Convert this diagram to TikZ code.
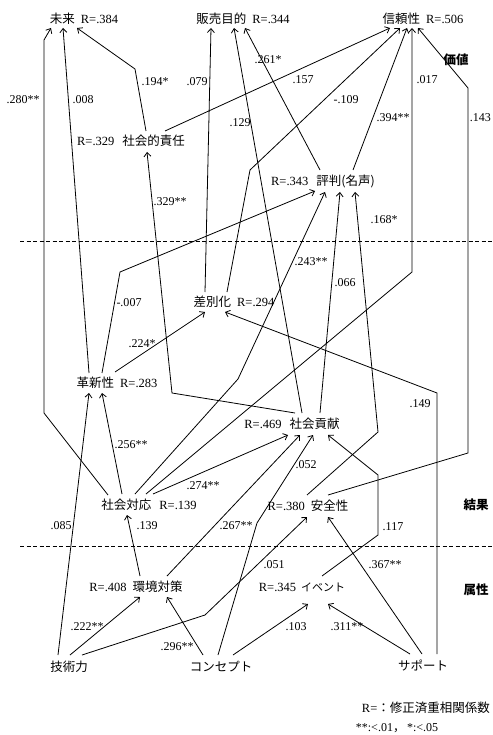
\documentclass[tikz,border=0pt]{standalone}
\usepackage{fontspec}
\setmainfont{Liberation Serif}
\newfontfamily\jp{Noto Sans CJK JP}
\usetikzlibrary{arrows.meta}
\begin{document}
\begin{tikzpicture}[x=1pt,y=-1pt,
  nd/.style={inner sep=0pt, font=\fontsize{12.5}{14}\selectfont},
  sec/.style={inner sep=0pt, font=\fontsize{12.5}{14}\selectfont\bfseries},
  lb/.style={inner sep=0pt, font=\fontsize{12}{13}\selectfont},
  ar/.style={line width=0.8pt, -{Straight Barb[length=4pt,width=7pt]}},
  sepline/.style={line width=0.8pt, dash pattern=on 4pt off 2.5pt}]
\useasboundingbox (0,0) rectangle (492,735);
\fill[white] (0,0) rectangle (492,735);

% separators
\draw[sepline] (20,241) -- (492,241);
\draw[sepline] (20,546) -- (492,546);

% nodes
\node[nd] (mirai) at (84,19) {{\jp 未来}\hspace{6pt}R=.384};
\node[nd] (hanbai) at (243,19) {{\jp 販売目的}\hspace{6pt}R=.344};
\node[nd] (shinrai) at (423,19) {{\jp 信頼性}\hspace{6pt}R=.506};
\node[nd] (sekinin) at (131,141) {R=.329\hspace{8pt}{\jp 社会的責任}};
\node[nd] (hyoban) at (323,181) {R=.343\hspace{8pt}{\jp 評判(名声)}};
\node[nd] (sabetsu) at (234,302) {{\jp 差別化}\hspace{6pt}R=.294};
\node[nd] (kakushin) at (117,383) {{\jp 革新性}\hspace{6pt}R=.283};
\node[nd] (kouken) at (292,424) {R=.469\hspace{8pt}{\jp 社会貢献}};
\node[nd] (taiou) at (149,505) {{\jp 社会対応}\hspace{8pt}R=.139};
\node[nd] (anzen) at (308,506) {R=.380\hspace{6pt}{\jp 安全性}};
\node[nd] (kankyo) at (136,587) {R=.408\hspace{6pt}{\jp 環境対策}};
\node[nd] (event) at (302,587) {R=.345\hspace{5pt}{\jp\fontsize{11}{13}\selectfont イベント}};
\node[nd] (gijutsu) at (69,667) {\jp 技術力};
\node[nd] (concept) at (221,667) {\jp コンセプト};
\node[nd] (support) at (423,665) {\jp サポート};

\node[sec] (kachi) at (456,60) {\jp\bfseries 価値};
\node[sec] (kekka) at (476,505) {\jp\bfseries 結果};
\node[sec] (zokusei) at (476,590) {\jp\bfseries 属性};

\node[nd, anchor=east] (leg1) at (490,708) {R={\jp ：修正済重相関係数}};
\node[lb] (leg2) at (397,728) {**:<.01{\jp ，}\,*:<.05};

% edges
\draw[ar] ([shift={(-41,-10)}]taiou.center) -- (44,413) -- (44,40) -- ([shift={(-33,9)}]mirai.center);
\draw[ar] ([shift={(-28,-10)}]kakushin.center) -- ([shift={(-21,9)}]mirai.center);
\draw[ar] ([shift={(15,-10)}]sekinin.center) -- (135,69) -- ([shift={(-7,9)}]mirai.center);

\draw[ar] ([shift={(-29,-10)}]sabetsu.center) -- ([shift={(-32,9)}]hanbai.center);
\draw[ar] ([shift={(10,-11)}]kouken.center) -- ([shift={(-9,9)}]hanbai.center);
\draw[ar] ([shift={(-3,-11)}]hyoban.center) -- ([shift={(2,9)}]hanbai.center);

\draw[ar] ([shift={(34,-10)}]sekinin.center) -- ([shift={(-33,9)}]shinrai.center);
\draw[ar] ([shift={(-7,-10)}]sabetsu.center) -- (250,170) -- ([shift={(-23,9)}]shinrai.center);
\draw[ar] ([shift={(30,-11)}]hyoban.center) -- ([shift={(-16,9)}]shinrai.center);
\draw[ar] ([shift={(-3,-11)}]taiou.center) -- (412,272) -- ([shift={(-11,9)}]shinrai.center);
\draw[ar] ([shift={(20,-11)}]anzen.center) -- (468,453) -- (468,88) -- ([shift={(-5,9)}]shinrai.center);

\draw[ar] ([shift={(3,-11)}]kouken.center) -- (172,393) -- ([shift={(16,11)}]sekinin.center);

\draw[ar] ([shift={(-15,-10)}]kakushin.center) -- (120,272) -- ([shift={(-8,10)}]hyoban.center);
\draw[ar] ([shift={(-14,-11)}]taiou.center) -- (238,379) -- ([shift={(2,11)}]hyoban.center);
\draw[ar] ([shift={(28,-11)}]kouken.center) -- ([shift={(17,11)}]hyoban.center);
\draw[ar] ([shift={(-1,-11)}]anzen.center) -- (378,432) -- ([shift={(32,11)}]hyoban.center);

\draw[ar] ([shift={(-2,-11)}]kakushin.center) -- ([shift={(-29,10)}]sabetsu.center);
\draw[ar] ([shift={(14,-11)}]support.center) -- (437,393) -- ([shift={(-9,10)}]sabetsu.center);

\draw[ar] ([shift={(-11,-12)}]gijutsu.center) -- ([shift={(-28,10)}]kakushin.center);
\draw[ar] ([shift={(-27,-11)}]taiou.center) -- ([shift={(-15,10)}]kakushin.center);

\draw[ar] ([shift={(4,-11)}]taiou.center) -- ([shift={(-4,11)}]kouken.center);
\draw[ar] ([shift={(31,-11)}]kankyo.center) -- ([shift={(8,11)}]kouken.center);
\draw[ar] ([shift={(-3,-12)}]concept.center) -- (257,523) -- ([shift={(21,11)}]kouken.center);
\draw[ar] ([shift={(20,-11)}]event.center) -- (378,535) -- (378,475) -- ([shift={(36,11)}]kouken.center);

\draw[ar] ([shift={(4,-11)}]kankyo.center) -- ([shift={(-22,10)}]taiou.center);

\draw[ar] ([shift={(13,-12)}]gijutsu.center) -- (205,615) -- ([shift={(-1,11)}]anzen.center);
\draw[ar] ([shift={(-1,-11)}]support.center) -- ([shift={(20,11)}]anzen.center);

\draw[ar] ([shift={(12,-12)}]concept.center) -- ([shift={(6,17)}]event.center);
\draw[ar] ([shift={(-13,-11)}]support.center) -- ([shift={(26,17)}]event.center);

\draw[ar] ([shift={(1,-12)}]gijutsu.center) -- ([shift={(4,10)}]kankyo.center);
\draw[ar] ([shift={(-18,-12)}]concept.center) -- ([shift={(31,10)}]kankyo.center);

% labels
\node[lb] (l01) at (23,100) {.280**};
\node[lb] (l02) at (83,100) {.008};
\node[lb] (l03) at (155,82) {.194*};
\node[lb] (l04) at (197,82) {.079};
\node[lb] (l05) at (240,123) {.129};
\node[lb] (l06) at (268,60) {.261*};
\node[lb] (l07) at (303,80) {.157};
\node[lb] (l08) at (346,100) {-.109};
\node[lb] (l09) at (393,118) {.394**};
\node[lb] (l10) at (427,80) {.017};
\node[lb, anchor=east] (l11) at (491,118) {.143};
\node[lb] (l12) at (170,202) {.329**};
\node[lb] (l13) at (384,220) {.168*};
\node[lb] (l14) at (129,303) {-.007};
\node[lb] (l15) at (311,262) {.243**};
\node[lb] (l16) at (345,283) {.066};
\node[lb] (l17) at (142,344) {.224*};
\node[lb] (l18) at (420,404) {.149};
\node[lb] (l19) at (131,445) {.256**};
\node[lb] (l20) at (203,486) {.274**};
\node[lb] (l21) at (306,465) {.052};
\node[lb] (l22) at (147,526) {.139};
\node[lb] (l23) at (236,526) {.267**};
\node[lb] (l24) at (393,527) {.117};
\node[lb] (l25) at (61,526) {.085};
\node[lb] (l26) at (274,565) {.051};
\node[lb] (l27) at (385,565) {.367**};
\node[lb] (l28) at (87,627) {.222**};
\node[lb] (l29) at (177,647) {.296**};
\node[lb] (l30) at (296,627) {.103};
\node[lb] (l31) at (347,627) {.311**};
\end{tikzpicture}
\end{document}
